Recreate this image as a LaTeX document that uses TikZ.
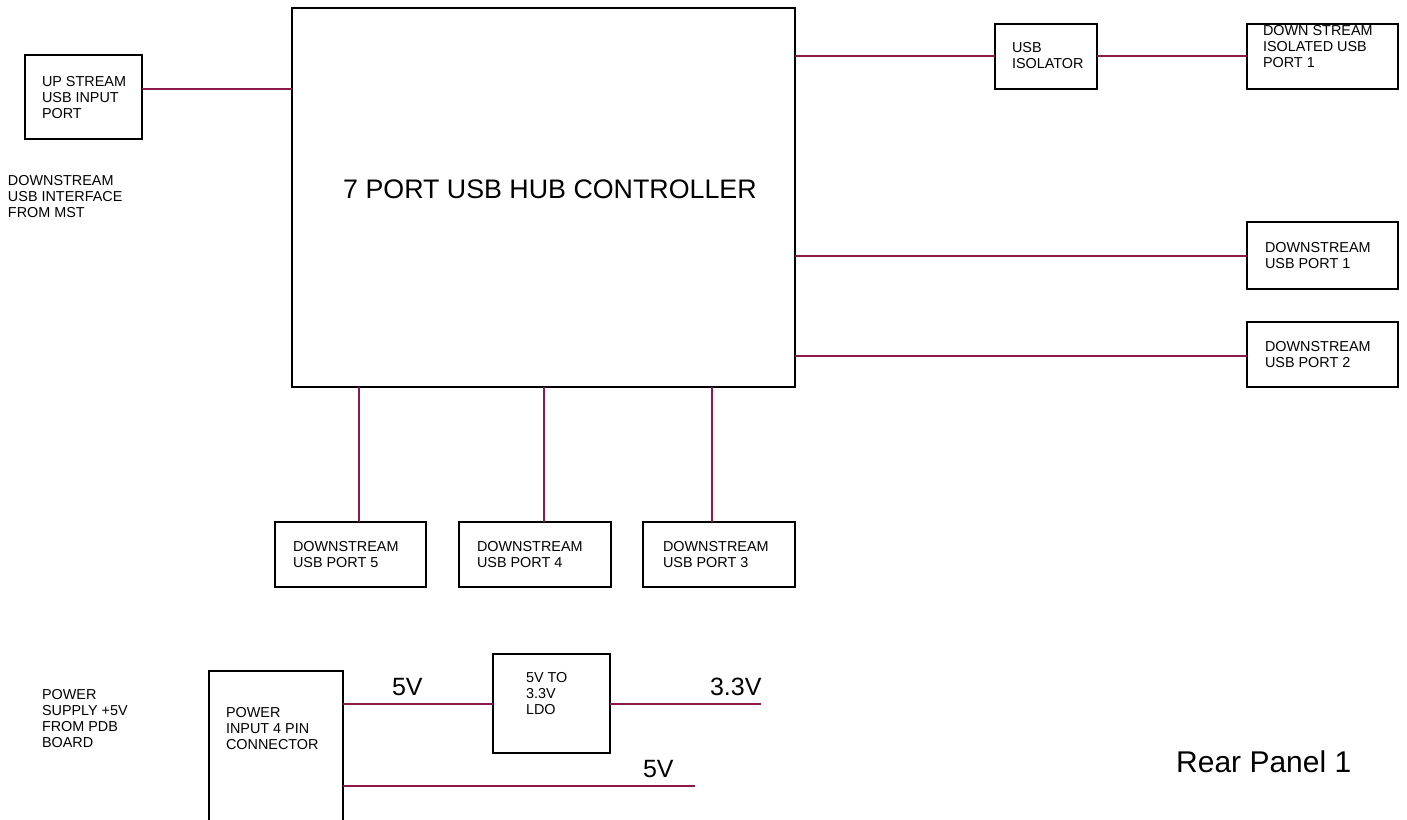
\documentclass[tikz,border=0pt]{standalone}
\usepackage{fontspec}
\setmainfont{Liberation Sans}
\definecolor{wirecol}{RGB}{140,25,75}
\begin{document}
\begin{tikzpicture}[x=1pt,y=-1pt,
  box/.style={draw=black,line width=1.3pt,rectangle,anchor=north west,inner sep=0pt,outer sep=0pt},
  txt/.style={font=\fontsize{14.4}{16}\selectfont,align=left,anchor=north west,inner sep=0pt,outer sep=0pt},
  big/.style={font=\fontsize{25}{28}\selectfont,anchor=base west,inner sep=0pt,outer sep=0pt},
  wire/.style={draw=wirecol,line width=1.3pt}]
\useasboundingbox (0,0) rectangle (1407,819);
\clip (0,0) rectangle (1407,819);
% boxes
\node[box,minimum width=117pt,minimum height=84pt] (up) at (25,55) {};
\node[box,minimum width=503pt,minimum height=379pt] (hub) at (292,8) {};
\node[box,minimum width=102pt,minimum height=65pt] (iso) at (995,24) {};
\node[box,minimum width=151pt,minimum height=65pt] (isop) at (1247,24) {};
\node[box,minimum width=151pt,minimum height=67pt] (p1) at (1247,222) {};
\node[box,minimum width=151pt,minimum height=65pt] (p2) at (1247,322) {};
\node[box,minimum width=151pt,minimum height=65pt] (p5) at (275,522) {};
\node[box,minimum width=152pt,minimum height=65pt] (p4) at (459,522) {};
\node[box,minimum width=152pt,minimum height=65pt] (p3) at (643,522) {};
\node[box,minimum width=134pt,minimum height=170pt] (pwr) at (209,671) {};
\node[box,minimum width=117pt,minimum height=99pt] (ldo) at (493,654) {};
% texts
\node[txt] (upT) at (42,76) {UP STREAM\\USB INPUT\\PORT};
\node[txt] (dsT) at (8,175) {DOWNSTREAM\\USB INTERFACE\\FROM MST};
\node[txt] (isoT) at (1012,42) {USB\\ISOLATOR};
\node[txt] (isopT) at (1263,25) {DOWN STREAM\\ISOLATED USB\\PORT 1};
\node[txt] (p1T) at (1265,242) {DOWNSTREAM\\USB PORT 1};
\node[txt] (p2T) at (1265,341) {DOWNSTREAM\\USB PORT 2};
\node[txt] (p5T) at (293,541) {DOWNSTREAM\\USB PORT 5};
\node[txt] (p4T) at (477,541) {DOWNSTREAM\\USB PORT 4};
\node[txt] (p3T) at (663,541) {DOWNSTREAM\\USB PORT 3};
\node[txt] (pwrT) at (226,707) {POWER\\INPUT 4 PIN\\CONNECTOR};
\node[txt] (ldoT) at (526,672) {5V TO\\3.3V\\LDO};
\node[txt] (psT) at (42,689) {POWER\\SUPPLY +5V\\FROM PDB\\BOARD};
\node[font=\fontsize{26.8}{30}\selectfont,anchor=base west,inner sep=0pt] (title) at (343,198) {7 PORT USB HUB CONTROLLER};
\node[big] (v5a) at (392,695) {5V};
\node[big] (v33) at (710,695) {3.3V};
\node[big] (v5b) at (643,777) {5V};
\node[font=\fontsize{30}{34}\selectfont,anchor=base west,inner sep=0pt] (rear) at (1176,772) {Rear Panel 1};
% free ends
\coordinate (e33) at (761,704);
\coordinate (e5) at (695,786);
% wires
\draw[wire] (up.east |- 0,89) -- (hub.west |- 0,89);
\draw[wire] (hub.east |- 0,56) -- (iso.west |- 0,56);
\draw[wire] (iso.east |- 0,56) -- (isop.west |- 0,56);
\draw[wire] (hub.east |- 0,256) -- (p1.west |- 0,256);
\draw[wire] (hub.east |- 0,356) -- (p2.west |- 0,356);
\draw[wire] (hub.south -| 359,0) -- (p5.north -| 359,0);
\draw[wire] (hub.south -| 544,0) -- (p4.north -| 544,0);
\draw[wire] (hub.south -| 712,0) -- (p3.north -| 712,0);
\draw[wire] (pwr.east |- e33) -- (ldo.west |- e33);
\draw[wire] (ldo.east |- e33) -- (e33);
\draw[wire] (pwr.east |- e5) -- (e5);
\end{tikzpicture}
\end{document}
